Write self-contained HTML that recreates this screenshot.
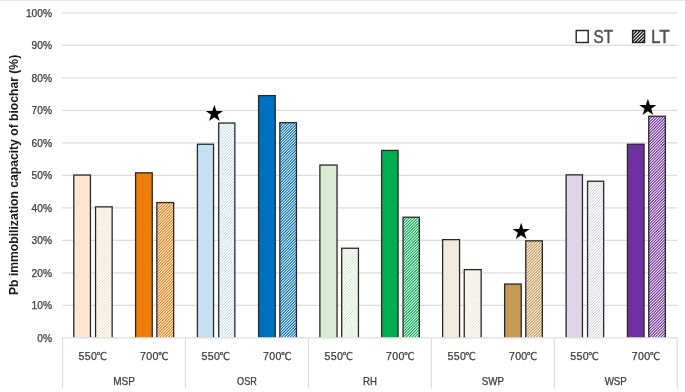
<!DOCTYPE html>
<html lang="en"><head><meta charset="utf-8"><title>Pb immobilization capacity of biochar</title>
<style>html,body{margin:0;padding:0;background:#fff;}body{width:685px;height:392px;overflow:hidden;}svg{display:block;}text{font-family:"Liberation Sans",sans-serif;fill:#3c3c3c;}.t,.x{stroke:#3c3c3c;stroke-width:0.25px;}.t{font-size:10.2px;}.x{font-size:10.6px;letter-spacing:0.35px;}.deg{font-family:"Liberation Sans","DejaVu Sans Condensed","DejaVu Sans",sans-serif;font-size:10.8px;letter-spacing:0;}.star{font-family:"Liberation Sans","DejaVu Sans",sans-serif;fill:#000;}</style></head><body>
<svg width="685" height="392" viewBox="0 0 685 392">
<defs>
<path id="diag" d="M-267.45 340l330-330M-264.62 340l330-330M-261.79 340l330-330M-258.96 340l330-330M-256.13 340l330-330M-253.30 340l330-330M-250.47 340l330-330M-247.64 340l330-330M-244.81 340l330-330M-241.98 340l330-330M-239.15 340l330-330M-236.32 340l330-330M-233.49 340l330-330M-230.66 340l330-330M-227.83 340l330-330M-225.00 340l330-330M-222.17 340l330-330M-219.34 340l330-330M-216.51 340l330-330M-213.68 340l330-330M-210.85 340l330-330M-208.02 340l330-330M-205.19 340l330-330M-202.36 340l330-330M-199.53 340l330-330M-196.70 340l330-330M-193.87 340l330-330M-191.04 340l330-330M-188.21 340l330-330M-185.38 340l330-330M-182.55 340l330-330M-179.72 340l330-330M-176.89 340l330-330M-174.06 340l330-330M-171.23 340l330-330M-168.40 340l330-330M-165.57 340l330-330M-162.74 340l330-330M-159.91 340l330-330M-157.08 340l330-330M-154.25 340l330-330M-151.42 340l330-330M-148.59 340l330-330M-145.76 340l330-330M-142.93 340l330-330M-140.10 340l330-330M-137.27 340l330-330M-134.44 340l330-330M-131.61 340l330-330M-128.78 340l330-330M-125.95 340l330-330M-123.12 340l330-330M-120.29 340l330-330M-117.46 340l330-330M-114.63 340l330-330M-111.80 340l330-330M-108.97 340l330-330M-106.14 340l330-330M-103.31 340l330-330M-100.48 340l330-330M-97.65 340l330-330M-94.82 340l330-330M-91.99 340l330-330M-89.16 340l330-330M-86.33 340l330-330M-83.50 340l330-330M-80.67 340l330-330M-77.84 340l330-330M-75.01 340l330-330M-72.18 340l330-330M-69.35 340l330-330M-66.52 340l330-330M-63.69 340l330-330M-60.86 340l330-330M-58.03 340l330-330M-55.20 340l330-330M-52.37 340l330-330M-49.54 340l330-330M-46.71 340l330-330M-43.88 340l330-330M-41.05 340l330-330M-38.22 340l330-330M-35.39 340l330-330M-32.56 340l330-330M-29.73 340l330-330M-26.90 340l330-330M-24.07 340l330-330M-21.24 340l330-330M-18.41 340l330-330M-15.58 340l330-330M-12.75 340l330-330M-9.92 340l330-330M-7.09 340l330-330M-4.26 340l330-330M-1.43 340l330-330M1.40 340l330-330M4.23 340l330-330M7.06 340l330-330M9.89 340l330-330M12.72 340l330-330M15.55 340l330-330M18.38 340l330-330M21.21 340l330-330M24.04 340l330-330M26.87 340l330-330M29.70 340l330-330M32.53 340l330-330M35.36 340l330-330M38.19 340l330-330M41.02 340l330-330M43.85 340l330-330M46.68 340l330-330M49.51 340l330-330M52.34 340l330-330M55.17 340l330-330M58.00 340l330-330M60.83 340l330-330M63.66 340l330-330M66.49 340l330-330M69.32 340l330-330M72.15 340l330-330M74.98 340l330-330M77.81 340l330-330M80.64 340l330-330M83.47 340l330-330M86.30 340l330-330M89.13 340l330-330M91.96 340l330-330M94.79 340l330-330M97.62 340l330-330M100.45 340l330-330M103.28 340l330-330M106.11 340l330-330M108.94 340l330-330M111.77 340l330-330M114.60 340l330-330M117.43 340l330-330M120.26 340l330-330M123.09 340l330-330M125.92 340l330-330M128.75 340l330-330M131.58 340l330-330M134.41 340l330-330M137.24 340l330-330M140.07 340l330-330M142.90 340l330-330M145.73 340l330-330M148.56 340l330-330M151.39 340l330-330M154.22 340l330-330M157.05 340l330-330M159.88 340l330-330M162.71 340l330-330M165.54 340l330-330M168.37 340l330-330M171.20 340l330-330M174.03 340l330-330M176.86 340l330-330M179.69 340l330-330M182.52 340l330-330M185.35 340l330-330M188.18 340l330-330M191.01 340l330-330M193.84 340l330-330M196.67 340l330-330M199.50 340l330-330M202.33 340l330-330M205.16 340l330-330M207.99 340l330-330M210.82 340l330-330M213.65 340l330-330M216.48 340l330-330M219.31 340l330-330M222.14 340l330-330M224.97 340l330-330M227.80 340l330-330M230.63 340l330-330M233.46 340l330-330M236.29 340l330-330M239.12 340l330-330M241.95 340l330-330M244.78 340l330-330M247.61 340l330-330M250.44 340l330-330M253.27 340l330-330M256.10 340l330-330M258.93 340l330-330M261.76 340l330-330M264.59 340l330-330M267.42 340l330-330M270.25 340l330-330M273.08 340l330-330M275.91 340l330-330M278.74 340l330-330M281.57 340l330-330M284.40 340l330-330M287.23 340l330-330M290.06 340l330-330M292.89 340l330-330M295.72 340l330-330M298.55 340l330-330M301.38 340l330-330M304.21 340l330-330M307.04 340l330-330M309.87 340l330-330M312.70 340l330-330M315.53 340l330-330M318.36 340l330-330M321.19 340l330-330M324.02 340l330-330M326.85 340l330-330M329.68 340l330-330M332.51 340l330-330M335.34 340l330-330M338.17 340l330-330M341.00 340l330-330M343.83 340l330-330M346.66 340l330-330M349.49 340l330-330M352.32 340l330-330M355.15 340l330-330M357.98 340l330-330M360.81 340l330-330M363.64 340l330-330M366.47 340l330-330M369.30 340l330-330M372.13 340l330-330M374.96 340l330-330M377.79 340l330-330M380.62 340l330-330M383.45 340l330-330M386.28 340l330-330M389.11 340l330-330M391.94 340l330-330M394.77 340l330-330M397.60 340l330-330M400.43 340l330-330M403.26 340l330-330M406.09 340l330-330M408.92 340l330-330M411.75 340l330-330M414.58 340l330-330M417.41 340l330-330M420.24 340l330-330M423.07 340l330-330M425.90 340l330-330M428.73 340l330-330M431.56 340l330-330M434.39 340l330-330M437.22 340l330-330M440.05 340l330-330M442.88 340l330-330M445.71 340l330-330M448.54 340l330-330M451.37 340l330-330M454.20 340l330-330M457.03 340l330-330M459.86 340l330-330M462.69 340l330-330M465.52 340l330-330M468.35 340l330-330M471.18 340l330-330M474.01 340l330-330M476.84 340l330-330M479.67 340l330-330M482.50 340l330-330M485.33 340l330-330M488.16 340l330-330M490.99 340l330-330M493.82 340l330-330M496.65 340l330-330M499.48 340l330-330M502.31 340l330-330M505.14 340l330-330M507.97 340l330-330M510.80 340l330-330M513.63 340l330-330M516.46 340l330-330M519.29 340l330-330M522.12 340l330-330M524.95 340l330-330M527.78 340l330-330M530.61 340l330-330M533.44 340l330-330M536.27 340l330-330M539.10 340l330-330M541.93 340l330-330M544.76 340l330-330M547.59 340l330-330M550.42 340l330-330M553.25 340l330-330M556.08 340l330-330M558.91 340l330-330M561.74 340l330-330M564.57 340l330-330M567.40 340l330-330M570.23 340l330-330M573.06 340l330-330M575.89 340l330-330M578.72 340l330-330M581.55 340l330-330M584.38 340l330-330M587.21 340l330-330M590.04 340l330-330M592.87 340l330-330M595.70 340l330-330M598.53 340l330-330M601.36 340l330-330M604.19 340l330-330M607.02 340l330-330M609.85 340l330-330M612.68 340l330-330M615.51 340l330-330M618.34 340l330-330M621.17 340l330-330M624.00 340l330-330M626.83 340l330-330M629.66 340l330-330M632.49 340l330-330M635.32 340l330-330M638.15 340l330-330M640.98 340l330-330M643.81 340l330-330M646.64 340l330-330M649.47 340l330-330M652.30 340l330-330M655.13 340l330-330M657.96 340l330-330M660.79 340l330-330M663.62 340l330-330M666.45 340l330-330M669.28 340l330-330M672.11 340l330-330M674.94 340l330-330M677.77 340l330-330M680.60 340l330-330" fill="none"/>
<path id="diagl" d="M619.40 45l16-16M622.70 45l16-16M626.00 45l16-16M629.30 45l16-16M632.60 45l16-16M635.90 45l16-16M639.20 45l16-16M642.50 45l16-16M645.80 45l16-16M649.10 45l16-16" fill="none"/>
<clipPath id="c0"><rect x="95.55" y="206.85" width="16.60" height="131.00"/></clipPath>
<clipPath id="c1"><rect x="156.85" y="202.55" width="16.80" height="135.30"/></clipPath>
<clipPath id="c2"><rect x="218.71" y="123.05" width="16.14" height="214.80"/></clipPath>
<clipPath id="c3"><rect x="279.85" y="122.65" width="16.60" height="215.20"/></clipPath>
<clipPath id="c4"><rect x="341.72" y="248.25" width="16.73" height="89.60"/></clipPath>
<clipPath id="c5"><rect x="403.05" y="217.25" width="16.30" height="120.60"/></clipPath>
<clipPath id="c6"><rect x="464.25" y="269.65" width="16.90" height="68.20"/></clipPath>
<clipPath id="c7"><rect x="525.75" y="240.85" width="16.60" height="97.00"/></clipPath>
<clipPath id="c8"><rect x="587.55" y="181.25" width="16.10" height="156.60"/></clipPath>
<clipPath id="c9"><rect x="648.75" y="116.25" width="16.60" height="221.60"/></clipPath>
<clipPath id="cl"><rect x="632.7" y="30.6" width="11.8" height="11.8"/></clipPath>
<clipPath id="plot"><rect x="0" y="0" width="685" height="337.85"/></clipPath>
</defs>
<rect width="685" height="392" fill="#fff"/>
<rect x="0" y="0" width="685" height="0.9" fill="#e2e2e2"/>
<line x1="62.05" y1="305.355" x2="677.2" y2="305.355" stroke="#dcdcdc" stroke-width="1.2"/>
<line x1="62.05" y1="272.86" x2="677.2" y2="272.86" stroke="#dcdcdc" stroke-width="1.2"/>
<line x1="62.05" y1="240.365" x2="677.2" y2="240.365" stroke="#dcdcdc" stroke-width="1.2"/>
<line x1="62.05" y1="207.87" x2="677.2" y2="207.87" stroke="#dcdcdc" stroke-width="1.2"/>
<line x1="62.05" y1="175.375" x2="677.2" y2="175.375" stroke="#dcdcdc" stroke-width="1.2"/>
<line x1="62.05" y1="142.88" x2="677.2" y2="142.88" stroke="#dcdcdc" stroke-width="1.2"/>
<line x1="62.05" y1="110.38499999999999" x2="677.2" y2="110.38499999999999" stroke="#dcdcdc" stroke-width="1.2"/>
<line x1="62.05" y1="77.88999999999999" x2="677.2" y2="77.88999999999999" stroke="#dcdcdc" stroke-width="1.2"/>
<line x1="62.05" y1="45.39499999999998" x2="677.2" y2="45.39499999999998" stroke="#dcdcdc" stroke-width="1.2"/>
<line x1="62.05" y1="12.899999999999977" x2="677.2" y2="12.899999999999977" stroke="#dcdcdc" stroke-width="1.2"/>
<g clip-path="url(#plot)">
<rect x="73.80" y="175.05" width="16.65" height="164.80" fill="#fde6d0" stroke="#282828" stroke-width="1.3"/>
<rect x="95.55" y="206.85" width="16.60" height="133.00" fill="#ffffff"/>
<use href="#diag" stroke="#fbd3b3" stroke-width="0.9" clip-path="url(#c0)"/>
<rect x="95.55" y="206.85" width="16.60" height="133.00" fill="none" stroke="#282828" stroke-width="1.3"/>
<rect x="135.60" y="172.85" width="16.65" height="167.00" fill="#ee7d0b" stroke="#282828" stroke-width="1.3"/>
<rect x="156.85" y="202.55" width="16.80" height="137.30" fill="#ffffff"/>
<use href="#diag" stroke="#ee7d0b" stroke-width="1.12" clip-path="url(#c1)"/>
<rect x="156.85" y="202.55" width="16.80" height="137.30" fill="none" stroke="#282828" stroke-width="1.3"/>
<rect x="197.40" y="144.25" width="16.15" height="195.60" fill="#c5e0f3" stroke="#282828" stroke-width="1.3"/>
<rect x="218.71" y="123.05" width="16.14" height="216.80" fill="#ffffff"/>
<use href="#diag" stroke="#a9d2ee" stroke-width="0.9" clip-path="url(#c2)"/>
<rect x="218.71" y="123.05" width="16.14" height="216.80" fill="none" stroke="#282828" stroke-width="1.3"/>
<rect x="258.60" y="95.60" width="16.65" height="244.25" fill="#0070c0" stroke="#282828" stroke-width="1.3"/>
<rect x="279.85" y="122.65" width="16.60" height="217.20" fill="#ffffff"/>
<use href="#diag" stroke="#0070c0" stroke-width="1.12" clip-path="url(#c3)"/>
<rect x="279.85" y="122.65" width="16.60" height="217.20" fill="none" stroke="#282828" stroke-width="1.3"/>
<rect x="319.90" y="165.05" width="17.15" height="174.80" fill="#dbecd5" stroke="#282828" stroke-width="1.3"/>
<rect x="341.72" y="248.25" width="16.73" height="91.60" fill="#ffffff"/>
<use href="#diag" stroke="#c6e0bd" stroke-width="0.9" clip-path="url(#c4)"/>
<rect x="341.72" y="248.25" width="16.73" height="91.60" fill="none" stroke="#282828" stroke-width="1.3"/>
<rect x="381.61" y="150.45" width="16.44" height="189.40" fill="#00b050" stroke="#282828" stroke-width="1.3"/>
<rect x="403.05" y="217.25" width="16.30" height="122.60" fill="#ffffff"/>
<use href="#diag" stroke="#00b050" stroke-width="1.12" clip-path="url(#c5)"/>
<rect x="403.05" y="217.25" width="16.30" height="122.60" fill="none" stroke="#282828" stroke-width="1.3"/>
<rect x="442.61" y="239.65" width="16.94" height="100.20" fill="#f2eadc" stroke="#282828" stroke-width="1.3"/>
<rect x="464.25" y="269.65" width="16.90" height="70.20" fill="#ffffff"/>
<use href="#diag" stroke="#ead9bf" stroke-width="0.9" clip-path="url(#c6)"/>
<rect x="464.25" y="269.65" width="16.90" height="70.20" fill="none" stroke="#282828" stroke-width="1.3"/>
<rect x="504.61" y="284.05" width="16.64" height="55.80" fill="#c49a56" stroke="#282828" stroke-width="1.3"/>
<rect x="525.75" y="240.85" width="16.60" height="99.00" fill="#ffffff"/>
<use href="#diag" stroke="#c49a56" stroke-width="1.12" clip-path="url(#c7)"/>
<rect x="525.75" y="240.85" width="16.60" height="99.00" fill="none" stroke="#282828" stroke-width="1.3"/>
<rect x="566.11" y="174.85" width="16.34" height="165.00" fill="#ddd5e7" stroke="#282828" stroke-width="1.3"/>
<rect x="587.55" y="181.25" width="16.10" height="158.60" fill="#ffffff"/>
<use href="#diag" stroke="#cbbedb" stroke-width="0.9" clip-path="url(#c8)"/>
<rect x="587.55" y="181.25" width="16.10" height="158.60" fill="none" stroke="#282828" stroke-width="1.3"/>
<rect x="627.41" y="144.25" width="16.64" height="195.60" fill="#7030a0" stroke="#282828" stroke-width="1.3"/>
<rect x="648.75" y="116.25" width="16.60" height="223.60" fill="#ffffff"/>
<use href="#diag" stroke="#7030a0" stroke-width="1.12" clip-path="url(#c9)"/>
<rect x="648.75" y="116.25" width="16.60" height="223.60" fill="none" stroke="#282828" stroke-width="1.3"/>
</g>
<line x1="62.05" y1="337.85" x2="677.2" y2="337.85" stroke="#dcdcdc" stroke-width="1.2"/>
<line x1="62.55" y1="337.85" x2="62.55" y2="388.5" stroke="#dcdcdc" stroke-width="1.2"/>
<line x1="185.49" y1="337.85" x2="185.49" y2="388.5" stroke="#dcdcdc" stroke-width="1.2"/>
<line x1="308.43" y1="337.85" x2="308.43" y2="388.5" stroke="#dcdcdc" stroke-width="1.2"/>
<line x1="431.37" y1="337.85" x2="431.37" y2="388.5" stroke="#dcdcdc" stroke-width="1.2"/>
<line x1="554.31" y1="337.85" x2="554.31" y2="388.5" stroke="#dcdcdc" stroke-width="1.2"/>
<line x1="677.25" y1="337.85" x2="677.25" y2="388.5" stroke="#dcdcdc" stroke-width="1.2"/>
<text class="t" x="52.0" y="341.55" text-anchor="end">0%</text>
<text class="t" x="52.0" y="309.06" text-anchor="end">10%</text>
<text class="t" x="52.0" y="276.56" text-anchor="end">20%</text>
<text class="t" x="52.0" y="244.06" text-anchor="end">30%</text>
<text class="t" x="52.0" y="211.57" text-anchor="end">40%</text>
<text class="t" x="52.0" y="179.07" text-anchor="end">50%</text>
<text class="t" x="52.0" y="146.58" text-anchor="end">60%</text>
<text class="t" x="52.0" y="114.08" text-anchor="end">70%</text>
<text class="t" x="52.0" y="81.59" text-anchor="end">80%</text>
<text class="t" x="52.0" y="49.09" text-anchor="end">90%</text>
<text class="t" x="52.0" y="16.60" text-anchor="end">100%</text>
<text class="x" x="92.78" y="360.3" text-anchor="middle">550<tspan class="deg" dx="-1.3">℃</tspan></text>
<text class="x" x="154.25" y="360.3" text-anchor="middle">700<tspan class="deg" dx="-1.3">℃</tspan></text>
<text class="x" x="215.73" y="360.3" text-anchor="middle">550<tspan class="deg" dx="-1.3">℃</tspan></text>
<text class="x" x="277.19" y="360.3" text-anchor="middle">700<tspan class="deg" dx="-1.3">℃</tspan></text>
<text class="x" x="338.67" y="360.3" text-anchor="middle">550<tspan class="deg" dx="-1.3">℃</tspan></text>
<text class="x" x="400.13" y="360.3" text-anchor="middle">700<tspan class="deg" dx="-1.3">℃</tspan></text>
<text class="x" x="461.61" y="360.3" text-anchor="middle">550<tspan class="deg" dx="-1.3">℃</tspan></text>
<text class="x" x="523.07" y="360.3" text-anchor="middle">700<tspan class="deg" dx="-1.3">℃</tspan></text>
<text class="x" x="584.54" y="360.3" text-anchor="middle">550<tspan class="deg" dx="-1.3">℃</tspan></text>
<text class="x" x="646.01" y="360.3" text-anchor="middle">700<tspan class="deg" dx="-1.3">℃</tspan></text>
<text class="t" x="124.02" y="384.9" text-anchor="middle" textLength="21.7" lengthAdjust="spacingAndGlyphs">MSP</text>
<text class="t" x="246.96" y="384.9" text-anchor="middle" textLength="19.8" lengthAdjust="spacingAndGlyphs">OSR</text>
<text class="t" x="369.90" y="384.9" text-anchor="middle" textLength="13.9" lengthAdjust="spacingAndGlyphs">RH</text>
<text class="t" x="492.84" y="384.9" text-anchor="middle" textLength="22.2" lengthAdjust="spacingAndGlyphs">SWP</text>
<text class="t" x="615.78" y="384.9" text-anchor="middle" textLength="22.2" lengthAdjust="spacingAndGlyphs">WSP</text>
<text transform="translate(18.2,174.9) rotate(-90)" text-anchor="middle" font-size="12" font-weight="bold" style="fill:#1a1a1a" textLength="240.2" lengthAdjust="spacingAndGlyphs">Pb immobilization capacity of biochar (%)</text>
<rect x="576.2" y="30.5" width="12" height="12" fill="#fff" stroke="#222" stroke-width="1.4"/>
<text x="593.6" y="42.7" font-size="19" style="fill:#505050;stroke:#505050;stroke-width:0.45px" textLength="19.6" lengthAdjust="spacingAndGlyphs">ST</text>
<rect x="632.6" y="30.5" width="12" height="12" fill="#fff"/>
<use href="#diagl" stroke="#111" stroke-width="1.3" clip-path="url(#cl)"/>
<rect x="632.6" y="30.5" width="12" height="12" fill="none" stroke="#222" stroke-width="1.4"/>
<text x="651.0" y="42.7" font-size="19" style="fill:#505050;stroke:#505050;stroke-width:0.45px" textLength="18.6" lengthAdjust="spacingAndGlyphs">LT</text>
<text class="star" x="214.5" y="121.2" font-size="22.6" text-anchor="middle">★</text>
<text class="star" x="521.2" y="238.7" font-size="22.6" text-anchor="middle">★</text>
<text class="star" x="647.8" y="114.7" font-size="22.6" text-anchor="middle">★</text>
</svg></body></html>
